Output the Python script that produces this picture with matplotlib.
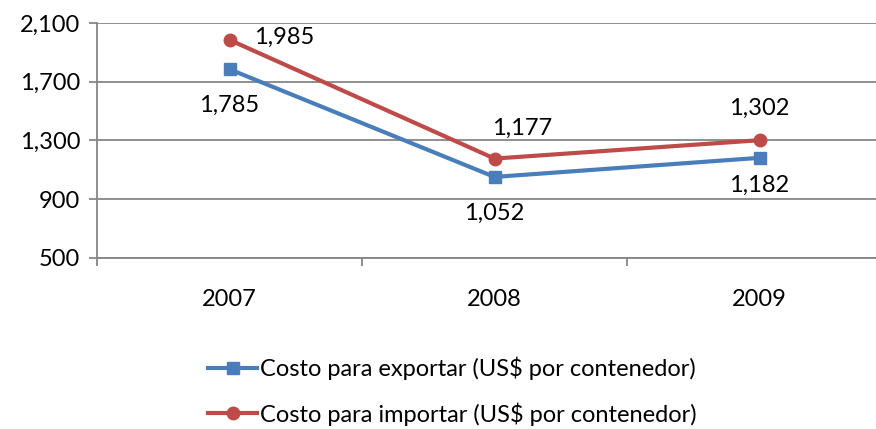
import matplotlib.pyplot as plt
import matplotlib.ticker as mticker

# data
years = ["2007", "2008", "2009"]
exportar = [1785, 1052, 1182]
importar = [1985, 1177, 1302]
yticks = [500, 900, 1300, 1700, 2100]
label_exp = "Costo para exportar (US$ por contenedor)"
label_imp = "Costo para importar (US$ por contenedor)"

plt.rcParams['font.family'] = ['Lato', 'DejaVu Sans']
FS = 17
GRAY = "#868686"
BLUE = "#4A7EBB"
RED = "#BE4B48"

fig = plt.figure(figsize=(8.76, 4.29), dpi=100)
ax = fig.add_axes([97 / 876, 1 - 258 / 429, 795 / 876, 235 / 429])

x = list(range(len(years)))
ax.plot(x, exportar, color=BLUE, lw=3, marker="s", ms=9, label=label_exp, zorder=3)
ax.plot(x, importar, color=RED, lw=3, marker="o", ms=9, label=label_imp, zorder=3)

# data labels (offsets in points)
exp_off = [(0, -26), (0, -26), (0, -20)]
imp_off = [(18, 2), (20, 22), (0, 23)]
exp_ha = ["center", "center", "center"]
imp_ha = ["left", "center", "center"]
for i in x:
    ax.annotate(f"{exportar[i]:,}", (i, exportar[i]), xytext=exp_off[i],
                textcoords="offset points", ha=exp_ha[i], va="center", fontsize=FS)
    ax.annotate(f"{importar[i]:,}", (i, importar[i]), xytext=imp_off[i],
                textcoords="offset points", ha=imp_ha[i], va="center", fontsize=FS)

ax.set_xlim(-0.5, 2.5)
ax.set_ylim(yticks[0], yticks[-1])
ax.set_yticks(yticks)
ax.yaxis.set_major_formatter(mticker.FuncFormatter(lambda v, p: f"{int(v):,}"))
ax.set_xticks(x)
ax.set_xticklabels(years)
ax.set_xticks([-0.5, 0.5, 1.5, 2.5], minor=True)
ax.tick_params(axis="x", which="major", length=0, pad=22, labelsize=FS)
ax.tick_params(axis="x", which="minor", length=6, width=1.3, color=GRAY)
ax.tick_params(axis="y", length=6, width=1.3, color=GRAY, pad=6, labelsize=FS)

ax.grid(axis="y", color=GRAY, lw=1.3)
ax.set_axisbelow(True)
for s in ["top", "right"]:
    ax.spines[s].set_visible(False)
for s in ["left", "bottom"]:
    ax.spines[s].set_color(GRAY)
    ax.spines[s].set_linewidth(1.3)

fig.legend(loc="center", bbox_to_anchor=(0.516, 1 - 391 / 429), frameon=False,
           fontsize=FS, handlelength=2.1, handletextpad=0.1, labelspacing=0.95,
           borderpad=0)

fig.savefig("out.png", dpi=100)
